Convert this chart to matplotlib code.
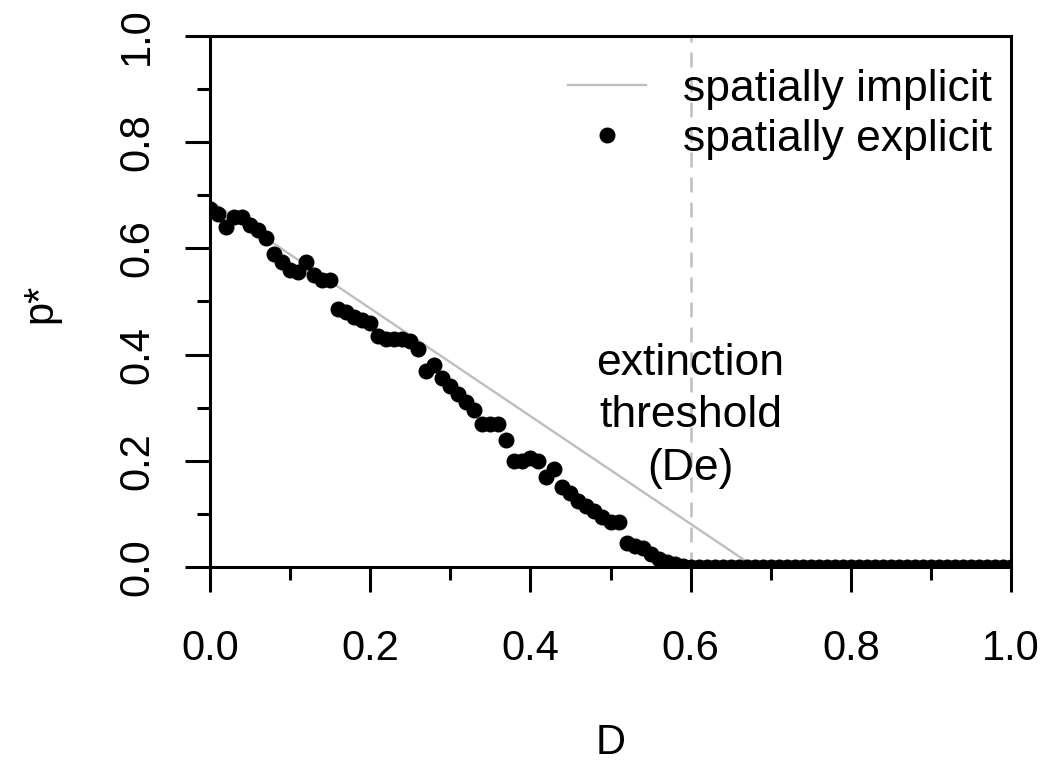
import matplotlib
matplotlib.use("Agg")
import matplotlib.pyplot as plt
from matplotlib.ticker import MultipleLocator

# ---- data ----
D_explicit = [0.00, 0.01, 0.02, 0.03, 0.04, 0.05, 0.06, 0.07, 0.08, 0.09,
              0.10, 0.11, 0.12, 0.13, 0.14, 0.15, 0.16, 0.17, 0.18, 0.19,
              0.20, 0.21, 0.22, 0.23, 0.24, 0.25, 0.26, 0.27, 0.28, 0.29,
              0.30, 0.31, 0.32, 0.33, 0.34, 0.35, 0.36, 0.37, 0.38, 0.39,
              0.40, 0.41, 0.42, 0.43, 0.44, 0.45, 0.46, 0.47, 0.48, 0.49,
              0.50, 0.51, 0.52, 0.53, 0.54, 0.55, 0.56, 0.57, 0.58, 0.59,
              0.60, 0.61, 0.62, 0.63, 0.64, 0.65, 0.66, 0.67, 0.68, 0.69,
              0.70, 0.71, 0.72, 0.73, 0.74, 0.75, 0.76, 0.77, 0.78, 0.79,
              0.80, 0.81, 0.82, 0.83, 0.84, 0.85, 0.86, 0.87, 0.88, 0.89,
              0.90, 0.91, 0.92, 0.93, 0.94, 0.95, 0.96, 0.97, 0.98, 0.99,
              1.00]
p_explicit = [0.675, 0.665, 0.640, 0.660, 0.660, 0.645, 0.635, 0.620, 0.590, 0.575,
              0.560, 0.555, 0.575, 0.550, 0.540, 0.540, 0.485, 0.480, 0.470, 0.465,
              0.460, 0.435, 0.430, 0.430, 0.430, 0.425, 0.410, 0.370, 0.380, 0.355,
              0.340, 0.325, 0.310, 0.295, 0.270, 0.270, 0.270, 0.240, 0.200, 0.200,
              0.205, 0.200, 0.170, 0.185, 0.150, 0.140, 0.125, 0.115, 0.105, 0.095,
              0.085, 0.085, 0.045, 0.040, 0.035, 0.025, 0.015, 0.010, 0.005, 0.002,
              0.0, 0.0, 0.0, 0.0, 0.0, 0.0, 0.0, 0.0, 0.0, 0.0,
              0.0, 0.0, 0.0, 0.0, 0.0, 0.0, 0.0, 0.0, 0.0, 0.0,
              0.0, 0.0, 0.0, 0.0, 0.0, 0.0, 0.0, 0.0, 0.0, 0.0,
              0.0, 0.0, 0.0, 0.0, 0.0, 0.0, 0.0, 0.0, 0.0, 0.0,
              0.0]
D_implicit = [0.0, 0.68, 1.0]
p_implicit = [0.69, 0.0, 0.0]
D_threshold = 0.6
xticks = [0.0, 0.2, 0.4, 0.6, 0.8, 1.0]
yticks = [0.0, 0.2, 0.4, 0.6, 0.8, 1.0]
labels = ["spatially implicit", "spatially explicit"]

plt.rcParams['font.family'] = ['Liberation Sans', 'DejaVu Sans']
FS = 30
FS_TXT = 32

fig = plt.figure(figsize=(10.54, 7.65), dpi=100)
ax = fig.add_axes([210/1054, 1 - 567/765, 801/1054, 531/765])

gray = "#BEBEBE"
ax.axvline(D_threshold, color=gray, lw=1.8, ls=(0, (6, 4)), zorder=1)
ln, = ax.plot(D_implicit, p_implicit, color=gray, lw=1.7, zorder=2, label=labels[0])
pts, = ax.plot(D_explicit, p_explicit, ls="none", marker="o", ms=10.5,
               color="black", zorder=3, label=labels[1])

ax.text(0.6, 0.285, "extinction\nthreshold\n(De)", ha="center", va="center",
        fontsize=FS_TXT, linespacing=1.36)

ax.set_xlim(0, 1)
ax.set_ylim(0, 1)
ax.set_xticks(xticks)
ax.set_yticks(yticks)
ax.set_xticklabels([f"{v:.1f}" for v in xticks])
ax.set_yticklabels([f"{v:.1f}" for v in yticks], rotation=90, va="center")
ax.xaxis.set_minor_locator(MultipleLocator(0.1))
ax.yaxis.set_minor_locator(MultipleLocator(0.1))
ax.tick_params(which="major", direction="out", length=18, width=2.2,
               labelsize=FS, top=False, right=False)
ax.tick_params(which="minor", direction="out", length=9.5, width=2.2,
               top=False, right=False)
ax.tick_params(axis="x", which="major", pad=27)
ax.tick_params(axis="y", which="major", pad=20)
for s in ax.spines.values():
    s.set_linewidth(2.2)

ax.set_xlabel("D", fontsize=FS)
ax.xaxis.set_label_coords(0.5, (567 - 743) / 531)
ax.xaxis.label.set_va("center")
ax.set_ylabel("p*", fontsize=FS)
ax.yaxis.set_label_coords((40 - 210) / 801, (567 - 303) / 531)
ax.yaxis.label.set_va("center")

leg = ax.legend(handles=[ln, pts], labels=labels, loc="upper left",
                bbox_to_anchor=((568 - 210) / 801, (567 - 69) / 531),
                frameon=False, fontsize=FS_TXT, borderpad=0, borderaxespad=0,
                handlelength=1.75, handletextpad=0.83, labelspacing=0.2,
                markerscale=1.0)

fig.savefig("out.png", dpi=100)
